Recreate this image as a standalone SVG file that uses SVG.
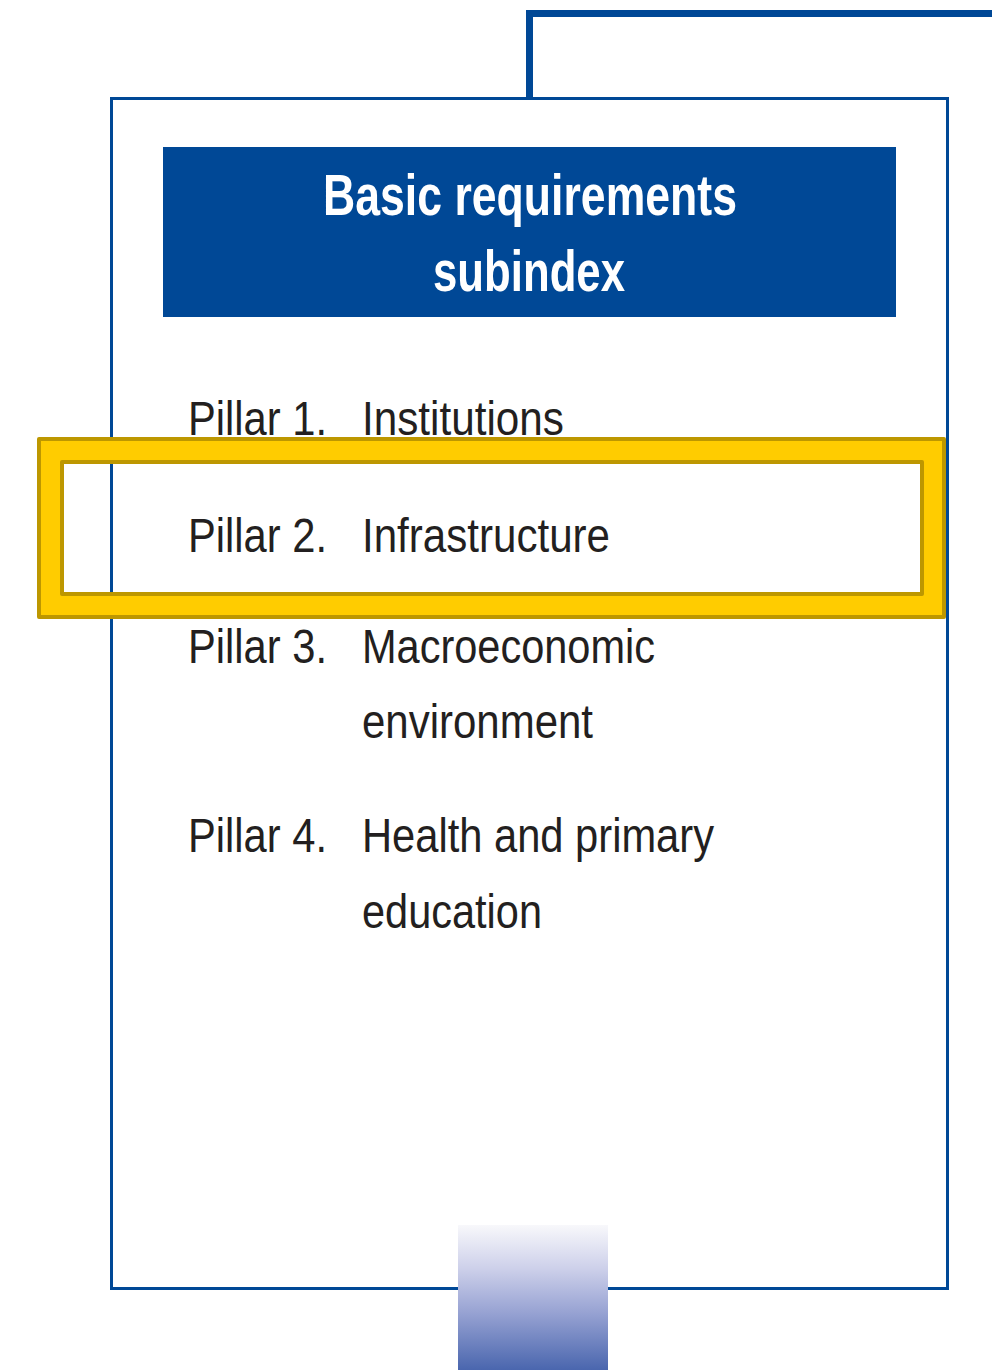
<svg xmlns="http://www.w3.org/2000/svg" width="992" height="1370" viewBox="0 0 992 1370">
<defs>
<linearGradient id="barGrad" x1="0" y1="0" x2="0" y2="1">
<stop offset="0" stop-color="#f8f8fb"/>
<stop offset="0.3" stop-color="#cdd0ea"/>
<stop offset="0.6" stop-color="#98a3d3"/>
<stop offset="1" stop-color="#4a66ae"/>
</linearGradient>
<style>
.blue{stroke:#004896;fill:none}
.title{font-family:"Liberation Sans Narrow","Liberation Sans",Arial,sans-serif;font-weight:bold;font-size:58px;fill:#ffffff}
.pl{font-family:"Liberation Sans Narrow","Liberation Sans",Arial,sans-serif;font-size:48px;fill:#231f20}
</style>
</defs>
<rect width="992" height="1370" fill="#ffffff"/>
<g id="subindex-box">
<rect class="blue" x="111.5" y="98.5" width="836" height="1190" stroke-width="3"/>
</g>
<g id="title">
<rect x="163" y="147" width="733" height="170" fill="#004896"/>
<text class="title" x="323" y="215" textLength="414" lengthAdjust="spacingAndGlyphs">Basic requirements</text>
<text class="title" x="433" y="291" textLength="192" lengthAdjust="spacingAndGlyphs">subindex</text>
</g>
<g id="pillar1">
<text class="pl" x="188" y="435" textLength="139" lengthAdjust="spacingAndGlyphs">Pillar 1.</text>
<text class="pl" x="362" y="435" textLength="202" lengthAdjust="spacingAndGlyphs">Institutions</text>
</g>
<g id="pillar2">
<text class="pl" x="188" y="552" textLength="139" lengthAdjust="spacingAndGlyphs">Pillar 2.</text>
<text class="pl" x="362" y="552" textLength="248" lengthAdjust="spacingAndGlyphs">Infrastructure</text>
</g>
<g id="pillar3">
<text class="pl" x="188" y="663" textLength="139" lengthAdjust="spacingAndGlyphs">Pillar 3.</text>
<text class="pl" x="362" y="663" textLength="293" lengthAdjust="spacingAndGlyphs">Macroeconomic</text>
<text class="pl" x="362" y="738" textLength="231" lengthAdjust="spacingAndGlyphs">environment</text>
</g>
<g id="pillar4">
<text class="pl" x="188" y="852" textLength="139" lengthAdjust="spacingAndGlyphs">Pillar 4.</text>
<text class="pl" x="362" y="852" textLength="352" lengthAdjust="spacingAndGlyphs">Health and primary</text>
<text class="pl" x="362" y="928" textLength="180" lengthAdjust="spacingAndGlyphs">education</text>
</g>
<g id="highlight">
<path d="M39,439 H944 V617 H39 Z M62,462 V594 H922 V462 Z" fill="#ffcc00" fill-rule="evenodd" stroke="#bd9700" stroke-width="4" stroke-linejoin="round"/>
</g>
<g id="output-bar">
<rect x="458" y="1225" width="150" height="145" fill="url(#barGrad)"/>
</g>
<g id="connectors">
<path class="blue" d="M529.5,97 V13.5 H992" stroke-width="7"/>
</g>
</svg>
